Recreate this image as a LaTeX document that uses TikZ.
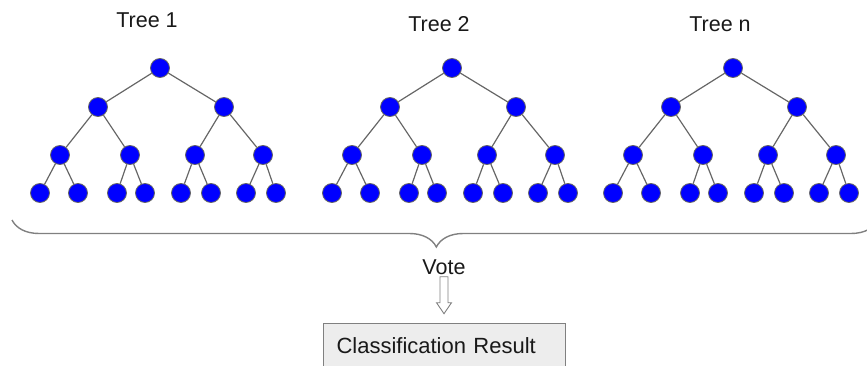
\documentclass[tikz,border=0pt]{standalone}
\usepackage{fontspec}
\setmainfont{Liberation Sans}
\usetikzlibrary{shapes,positioning,decorations.pathreplacing}
\definecolor{linegray}{rgb}{0.4,0.4,0.4}
\definecolor{boxgray}{rgb}{0.93,0.93,0.93}

\begin{document}
\begin{tikzpicture}
  [x=1pt,y=-1pt,
   dotN/.style={circle,draw=linegray,line width=0.8pt,fill=blue,minimum size=19pt,inner sep=0pt},
   edgeL/.style={draw=linegray,line width=1.2pt},
   labelN/.style={font=\fontsize{21.5}{25}\selectfont,text=black!90,inner sep=0pt},
   arrowL/.style={draw=gray,fill=white,line width=0.9pt,line join=miter},
   resultN/.style={draw=gray,fill=boxgray,line width=1pt,font=\fontsize{22}{26}\selectfont,
     text=black!90,text width=216pt,align=left,inner xsep=13pt,inner ysep=0pt,
     text height=30pt,text depth=20pt}]

  \clip (0,0) rectangle (867,366);

  \foreach \t/\cx/\ly/\n in {1/160/20/1, 2/452/24/2, 3/733/24/n} {
    \node[labelN] (title\t) at (\cx-13,\ly) {Tree \n};

    % root and second level
    \node[dotN] (r\t) at (\cx,68) {};
    \node[dotN] (b\t-1) at (\cx-62,107) {};
    \node[dotN] (b\t-2) at (\cx+64,107) {};
    \draw[edgeL] (r\t) -- (b\t-1);
    \draw[edgeL] (r\t) -- (b\t-2);

    % third level
    \foreach \j/\dx/\p in {1/-100/1, 2/-30/1, 3/35/2, 4/103/2} {
      \node[dotN] (c\t-\j) at (\cx+\dx,155) {};
      \draw[edgeL] (b\t-\p) -- (c\t-\j);
    }

    % leaves
    \foreach \i/\dx/\p in {1/-120/1, 2/-82/1, 3/-43/2, 4/-15/2,
                           5/21/3, 6/51/3, 7/86/4, 8/116/4} {
      \node[dotN] (l\t-\i) at (\cx+\dx,193) {};
      \draw[edgeL] (c\t-\p) -- (l\t-\i);
    }
  }

  % brace under all trees
  \draw[draw=gray,line width=1.4pt,decorate,
        decoration={brace,mirror,amplitude=27pt,aspect=0.49}]
    (12,220) -- (878,220);
  \coordinate (tip) at (437,247);

  \node[labelN] (vote) at (444,267) {Vote};

  % hollow arrow down to the result box
  \coordinate (arrtop) at ([yshift=-2pt]vote.south);
  \draw[arrowL] (arrtop) ++(-4,0) -- ++(8,0) -- ++(0,26) -- ++(3.5,0)
    -- ++(-7.5,11) -- ++(-7.5,-11) -- ++(3.5,0) -- cycle;

  \node[resultN,anchor=base west] (result) at (323,353) {Classification Result};
\end{tikzpicture}
\end{document}
